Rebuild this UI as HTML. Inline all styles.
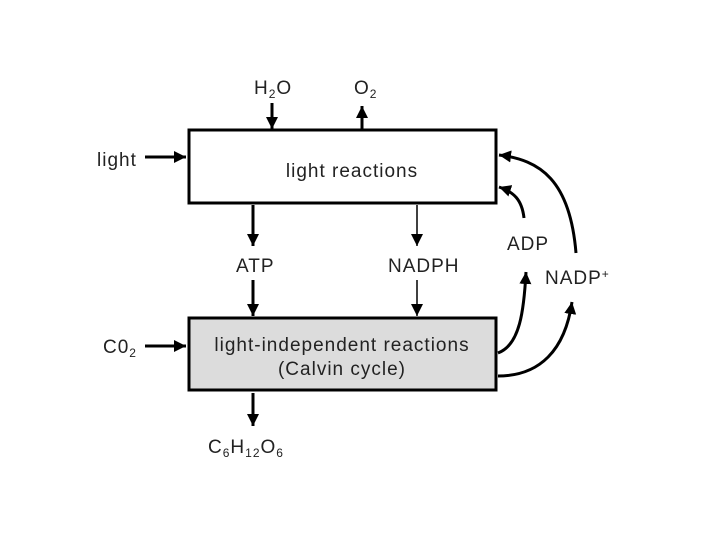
<!DOCTYPE html><html><head><style>body{margin:0;background:#fff}</style></head><body>
<svg width="720" height="540" xmlns="http://www.w3.org/2000/svg" font-family="Liberation Sans, sans-serif" font-size="19" letter-spacing="1" fill="#222">
<defs><marker id="b" markerWidth="12" markerHeight="14" refX="12" refY="6" orient="auto" markerUnits="userSpaceOnUse" viewBox="0 0 12 12"><path d="M0,0L12,6L0,12z" fill="#000"/></marker></defs>
<rect x="189" y="130" width="307" height="73" fill="#fff" stroke="#000" stroke-width="3"/>
<rect x="189" y="318" width="307" height="72" fill="#dcdcdc" stroke="#000" stroke-width="3"/>
<g stroke="#000" stroke-width="3" fill="none" marker-end="url(#b)">
<line x1="272" y1="103" x2="272" y2="129"/>
<line x1="362" y1="129" x2="362" y2="106"/>
<line x1="253" y1="205" x2="253" y2="246"/>
<line x1="253" y1="280" x2="253" y2="316"/>
<line x1="253" y1="393" x2="253" y2="426"/>
<line x1="145" y1="157" x2="186" y2="157"/>
<line x1="145" y1="346" x2="186" y2="346"/>
<path d="M498,353 C520,345 524,310 526,272"/>
<path d="M524,218 C522,200 514,192 499,187"/>
<path d="M498,376 C540,376 565,350 572,302"/>
<path d="M576,253 C570,180 540,160 499,155"/>
</g>
<g stroke="#000" stroke-width="1.5" marker-end="url(#b)">
<line x1="417" y1="205" x2="417" y2="246"/>
<line x1="417" y1="280" x2="417" y2="316"/>
</g>
<text x="254" y="94">H<tspan font-size="12" dy="4">2</tspan><tspan dy="-4">O</tspan></text>
<text x="354" y="94">O<tspan font-size="12" dy="4">2</tspan></text>
<text x="97" y="166">light</text>
<text x="352" y="177" text-anchor="middle">light reactions</text>
<text x="236" y="272">ATP</text>
<text x="388" y="272">NADPH</text>
<text x="507" y="250">ADP</text>
<text x="545" y="284">NADP<tspan font-size="12" dy="-6">+</tspan></text>
<text x="103" y="353">C0<tspan font-size="12" dy="4">2</tspan></text>
<text x="342" y="351" text-anchor="middle">light-independent reactions</text>
<text x="342" y="375" text-anchor="middle">(Calvin cycle)</text>
<text x="208" y="453">C<tspan font-size="12" dy="4">6</tspan><tspan dy="-4">H</tspan><tspan font-size="12" dy="4">12</tspan><tspan dy="-4">O</tspan><tspan font-size="12" dy="4">6</tspan></text>
</svg></body></html>
